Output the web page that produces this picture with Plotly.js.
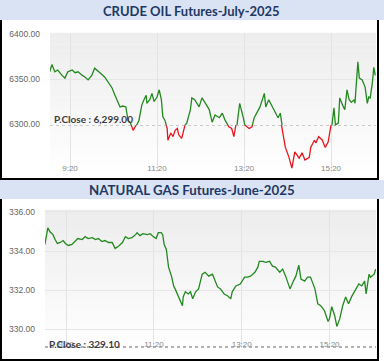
<!DOCTYPE html>
<html><head><meta charset="utf-8">
<script src="https://cdn.plot.ly/plotly-3.0.1.min.js"></script>
<style>html,body{margin:0;padding:0;background:#fff;overflow:hidden}#chart{width:384px;height:361px}</style>
</head><body><div id="chart"></div>
<script>
const day = "2025-06-10 ";
const crudeTitle = "CRUDE OIL Futures-July-2025";
const gasTitle = "NATURAL GAS Futures-June-2025";

const crudeTimes = ["08:52","08:55","08:59","09:03","09:09","09:13","09:17","09:23","09:27","09:31","09:37","09:41","09:45","09:50","09:54","09:59","10:04","10:08","10:12","10:18","10:22","10:26","10:29","10:33","10:37","10:40","10:43","10:46","10:47","10:50","10:52","10:55","10:59","11:02","11:05","11:06","11:10","11:13","11:16","11:20","11:23","11:26","11:28","11:31","11:34","11:35","11:39","11:42","11:45","11:48","11:50","11:54","11:56","11:59","12:01","12:06","12:08","12:12","12:18","12:22","12:26","12:32","12:36","12:40","12:46","12:50","12:54","12:59","13:03","13:06","13:10","13:14","13:19","13:21","13:27","13:31","13:34","13:38","13:42","13:48","13:50","13:54","13:59","14:03","14:07","14:10","14:12","14:17","14:22","14:26","14:30","14:36","14:40","14:44","14:50","14:52","14:57","14:59","15:03","15:08","15:12","15:16","15:19","15:21","15:24","15:26","15:30","15:32","15:37","15:39","15:42","15:45","15:48","15:52","15:53","15:57","15:59","16:03","16:07","16:10","16:12","16:14","16:17","16:19","16:21"];
const crudePrices = [6358,6366,6358,6360,6354,6351,6358,6360,6357,6358,6354,6352,6349,6354,6362,6358,6355,6352,6347,6340,6332,6324,6319,6320,6319,6304,6302,6295,6293,6297,6299,6304,6321,6327,6332,6323,6327,6334,6325,6330,6338,6327,6308,6304,6295,6282,6290,6286,6293,6295,6288,6284,6290,6299,6301,6316,6329,6327,6319,6329,6324,6316,6302,6310,6307,6312,6304,6297,6295,6286,6297,6323,6307,6299,6295,6297,6307,6313,6319,6334,6319,6327,6319,6312,6307,6312,6297,6274,6263,6251,6269,6262,6268,6260,6263,6274,6282,6279,6286,6282,6274,6280,6291,6297,6318,6299,6301,6329,6319,6316,6338,6327,6324,6327,6323,6369,6351,6349,6341,6323,6330,6329,6346,6363,6354];
const crudePClose = 6299.00;
const crudeYTicks = [6250, 6300, 6350, 6400];

const gasTimes = ["08:51","08:54","08:55","08:58","09:02","09:05","09:08","09:12","09:16","09:19","09:23","09:28","09:32","09:36","09:42","09:46","09:50","09:56","10:00","10:04","10:09","10:13","10:18","10:23","10:27","10:31","10:37","10:41","10:45","10:50","10:55","10:57","11:01","11:05","11:11","11:15","11:19","11:23","11:26","11:30","11:32","11:34","11:37","11:40","11:44","11:47","11:49","11:53","11:56","11:59","12:00","12:03","12:07","12:10","12:13","12:17","12:21","12:26","12:30","12:35","12:40","12:43","12:47","12:51","12:56","13:01","13:05","13:07","13:12","13:18","13:24","13:28","13:32","13:38","13:42","13:44","13:49","13:53","13:58","14:02","14:06","14:12","14:16","14:20","14:26","14:30","14:34","14:38","14:41","14:46","14:50","14:54","15:00","15:04","15:08","15:13","15:18","15:20","15:23","15:27","15:30","15:34","15:38","15:42","15:46","15:50","15:56","16:00","16:04","16:08","16:10","16:14","16:16","16:21","16:23"];
const gasPrices = [334.34,334.94,335.19,334.99,334.84,334.59,334.39,334.44,334.54,334.39,334.29,334.34,334.49,334.64,334.59,334.74,334.64,334.69,334.59,334.64,334.49,334.54,334.44,334.44,334.13,334.23,334.44,334.74,334.64,334.69,334.84,334.94,334.79,334.89,334.84,334.89,334.74,334.64,334.94,334.94,334.84,334.34,334.08,333.18,332.72,332.22,332.07,331.71,331.46,331.21,331.66,331.92,331.81,331.92,331.56,331.92,332.07,332.82,332.92,332.72,332.82,332.57,332.17,332.07,331.81,331.71,331.56,331.92,332.22,332.32,332.67,332.67,332.72,332.92,333.18,333.48,333.48,333.43,333.48,333.23,333.18,332.92,333.08,332.72,332.07,332.42,332.72,333.28,332.57,332.47,332.67,332.67,332.07,331.31,331.21,330.96,330.40,330.55,331.16,330.71,330.15,330.55,331.21,331.66,331.31,331.66,332.07,332.32,332.22,332.47,331.81,332.82,332.67,332.82,333.08];
const gasPClose = 329.10;
const gasYTicks = [330, 332, 334, 336];

const xTickTimes = ["09:20","11:20","13:20","15:20"];
const xTickLabels = ["9:20","11:20","13:20","15:20"];

// ---- layout geometry (pixels) ----
const W = 384, H = 361;
const px = v => v / W, py = v => 1 - v / H;
const C = {l:50, r:376, t:33, b:172, yr:[6246.7, 6401.1], xr:[day+"08:52:24", day+"16:22:00"]};
const G = {l:45, r:376, t:210, b:348, yr:[329.05, 336.1], xr:[day+"08:51:10", day+"16:23:30"]};
const splitPx = C.t + (C.yr[1]-crudePClose)/(C.yr[1]-C.yr[0])*(C.b-C.t);

const green = "#22891f", red = "#e8161c";
const FONT = "Liberation Sans, Arial, sans-serif";
const TFONT = "Lato, Liberation Sans, Arial, sans-serif";
const toDates = arr => arr.map(t => day + t);

const traces = [
  {x: toDates(crudeTimes), y: crudePrices, xaxis:"x", yaxis:"y", mode:"lines", line:{color:green, width:1.3}, hoverinfo:"skip"},
  {x: toDates(crudeTimes), y: crudePrices, xaxis:"x", yaxis:"y3", mode:"lines", line:{color:red, width:1.3}, hoverinfo:"skip"},
  {x: toDates(gasTimes), y: gasPrices, xaxis:"x2", yaxis:"y2", mode:"lines", line:{color:green, width:1.3}, hoverinfo:"skip"}
];

const yBase = {tickformat:".2f", showgrid:true, gridcolor:"#e6e6e6", gridwidth:1, zeroline:false, showline:false, ticks:"", tickfont:{size:8.5, color:"#666", family:FONT}, ticklabelstandoff:9, fixedrange:true};
const xBase = {type:"date", tickvals: toDates(xTickTimes), ticktext: xTickLabels, showgrid:true, gridcolor:"#e3e3e3", zeroline:false, showline:false, ticks:"", ticklabelposition:"inside", ticklabelstandoff:-4, tickfont:{size:8, color:"#888", family:FONT}, fixedrange:true};

const shapes = [];
function gradient(p){
  const n = 24;
  for (let i=0;i<n;i++){
    const a = p.t + (p.b-p.t)*i/n, b = p.t + (p.b-p.t)*(i+1)/n;
    const c = Math.round(237 + (254-237)*i/(n-1));
    shapes.push({type:"rect", xref:"paper", yref:"paper", x0:px(p.l), x1:px(p.r), y0:py(b), y1:py(a)+0.0005, fillcolor:`rgb(${c},${c},${c})`, line:{width:0}, layer:"below"});
  }
}
gradient(C); gradient(G);
// headers
shapes.push({type:"rect", xref:"paper", yref:"paper", x0:0, x1:1, y0:py(20), y1:1, fillcolor:"#dae3f3", line:{width:0}, layer:"below"});
shapes.push({type:"rect", xref:"paper", yref:"paper", x0:0, x1:1, y0:py(199), y1:py(180), fillcolor:"#dae3f3", line:{width:0}, layer:"below"});
// panel borders
const bl = {color:"#000", width:2};
[[20,179],[199,360]].forEach(([t,b])=>{
  shapes.push({type:"line", xref:"paper", yref:"paper", x0:px(1), x1:px(1), y0:py(t), y1:py(b), line:bl});
  shapes.push({type:"line", xref:"paper", yref:"paper", x0:px(378), x1:px(378), y0:py(t), y1:py(b), line:bl});
  shapes.push({type:"line", xref:"paper", yref:"paper", x0:0, x1:px(379), y0:py(b), y1:py(b), line:bl});
});
// previous close lines
shapes.push({type:"line", xref:"paper", yref:"y3", x0:px(C.l), x1:px(C.r), y0:crudePClose, y1:crudePClose, line:{color:"#9a9a9a", width:1.3, dash:"dot"}});
shapes.push({type:"line", xref:"paper", yref:"y2", x0:px(G.l), x1:px(G.r), y0:gasPClose, y1:gasPClose, line:{color:"#9a9a9a", width:1.3, dash:"dot"}});

const fmt = v => v.toLocaleString("en-US", {minimumFractionDigits:2, maximumFractionDigits:2});
const annotations = [
  {text:"<b>"+crudeTitle+"</b>", xref:"paper", yref:"paper", x:px(191.5), y:py(10.5), xanchor:"center", yanchor:"middle", showarrow:false, font:{family:TFONT, size:13, color:"#1f3864"}},
  {text:"<b>"+gasTitle+"</b>", xref:"paper", yref:"paper", x:px(192), y:py(190.5), xanchor:"center", yanchor:"middle", showarrow:false, font:{family:TFONT, size:13.3, color:"#1f3864"}},
  {text:"<b>P.Close : "+fmt(crudePClose)+"</b>", xref:"paper", yref:"paper", x:px(52), y:py(119), xanchor:"left", yanchor:"middle", showarrow:false, font:{family:TFONT, size:10, color:"#3c3c3c"}},
  {text:"<b>P.Close : "+fmt(gasPClose)+"</b>", xref:"paper", yref:"paper", x:px(47), y:py(344), xanchor:"left", yanchor:"middle", showarrow:false, font:{family:TFONT, size:10, color:"#3c3c3c"}}
];

const layout = {
  width:W, height:H, margin:{l:0,r:0,t:0,b:0}, paper_bgcolor:"#fff", plot_bgcolor:"rgba(0,0,0,0)", showlegend:false,
  font:{family:FONT},
  xaxis: Object.assign({}, xBase, {domain:[px(C.l), px(C.r)], anchor:"y3", range:C.xr}),
  yaxis: Object.assign({}, yBase, {domain:[py(splitPx), py(C.t)], anchor:"x", range:[crudePClose, C.yr[1]], tickvals:crudeYTicks}),
  yaxis3: Object.assign({}, yBase, {domain:[py(C.b), py(splitPx)], anchor:"x", range:[C.yr[0], crudePClose], tickvals:crudeYTicks}),
  xaxis2: Object.assign({}, xBase, {domain:[px(G.l), px(G.r)], anchor:"y2", range:G.xr}),
  yaxis2: Object.assign({}, yBase, {domain:[py(G.b), py(G.t)], anchor:"x2", range:G.yr, tickvals:gasYTicks}),
  shapes, annotations
};
Plotly.newPlot("chart", traces, layout, {staticPlot:true, displayModeBar:false});
</script></body></html>
